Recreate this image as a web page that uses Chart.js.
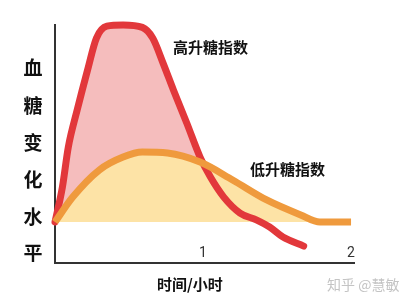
<!DOCTYPE html>
<html><head><meta charset="utf-8">
<script src="https://cdn.jsdelivr.net/npm/chart.js@4"></script>
<style>html,body{margin:0;padding:0;background:#fff;}#wrap{width:407px;height:307px;}</style>
</head><body><div id="wrap"><canvas id="c" width="407" height="307"></canvas></div>
<script>
// Time in hours, blood sugar level (arbitrary units)
const highGiTime  = [0, 0.05, 0.09, 0.15, 0.22, 0.28, 0.35, 0.46, 0.59, 0.66, 0.73, 0.80, 0.89, 0.98, 1.05, 1.14, 1.25, 1.36, 1.45, 1.54, 1.68];
const highGiLevel = [1.72, 3.19, 4.87, 6.43, 8.11, 9.45, 9.95, 10.0, 9.9, 9.45, 8.40, 7.27, 5.88, 4.45, 3.61, 2.77, 2.10, 1.81, 1.51, 1.09, 0.71];
const lowGiTime   = [0, 0.12, 0.30, 0.46, 0.59, 0.76, 0.98, 1.20, 1.43, 1.66, 1.79, 2.0];
const lowGiLevel  = [1.72, 2.77, 3.91, 4.45, 4.66, 4.62, 4.24, 3.49, 2.65, 2.02, 1.72, 1.72];
const baseLevel = 1.72;
const xTickValues = [1, 2];
const xTickLabels = ['1', '2'];
const yTitleChars = ['血', '糖', '变', '化', '水', '平'];
const xTitle = '时间/小时';
const highGiName = '高升糖指数';
const lowGiName = '低升糖指数';
const watermark = '知乎 @慧敏';

const CJK = '"Noto Sans CJK SC", "Noto Sans", sans-serif';

const textPlugin = {
  id: 'texts',
  afterDraw(chart) {
    const ctx = chart.ctx;
    ctx.save();
    ctx.textBaseline = 'middle';
    ctx.fillStyle = '#111';
    ctx.textAlign = 'center';
    ctx.font = 'bold 19px ' + CJK;
    const ys = [68, 106, 143, 180, 217, 253];
    yTitleChars.forEach((ch, i) => ctx.fillText(ch, 33, ys[i]));
    ctx.textAlign = 'left';
    ctx.font = 'bold 15px ' + CJK;
    ctx.fillText(highGiName, 173, 47);
    ctx.fillText(lowGiName, 250, 169);
    ctx.fillText(xTitle, 157, 284);
    ctx.fillStyle = '#c4c4c4';
    ctx.font = '14px ' + CJK;
    ctx.fillText(watermark, 327, 285);
    ctx.restore();
  }
};

new Chart(document.getElementById('c'), {
  type: 'line',
  data: {
    datasets: [
      {
        label: lowGiName,
        data: lowGiTime.map((t, i) => ({x: t, y: lowGiLevel[i]})),
        borderColor: '#ef9a3d',
        borderWidth: 7,
        borderCapStyle: 'butt',
        fill: {target: {value: baseLevel}, above: '#fde3a6', below: 'rgba(0,0,0,0)'},
        pointRadius: 0,
        cubicInterpolationMode: 'monotone',
        clip: false
      },
      {
        label: highGiName,
        data: highGiTime.map((t, i) => ({x: t, y: highGiLevel[i]})),
        borderColor: '#e2383b',
        borderWidth: 7,
        borderCapStyle: 'round',
        fill: {target: {value: baseLevel}, above: '#f5bdbd', below: 'rgba(0,0,0,0)'},
        pointRadius: 0,
        cubicInterpolationMode: 'monotone',
        clip: false
      }
    ]
  },
  options: {
    responsive: false,
    animation: false,
    devicePixelRatio: 1,
    layout: {padding: {left: 55, right: 53, top: 25, bottom: 44}},
    plugins: {
      legend: {display: false},
      tooltip: {enabled: false},
      filler: {drawTime: 'beforeDatasetsDraw'}
    },
    scales: {
      x: {
        type: 'linear', min: 0, max: 2.02,
        grid: {display: false, drawTicks: false},
        border: {display: true, color: '#333', width: 2},
        afterBuildTicks: s => { s.ticks = xTickValues.map(v => ({value: v})); },
        afterFit: s => { s.height = 0; },
        ticks: {
          mirror: true,
          padding: 1,
          color: '#333',
          font: {family: 'Roboto, "Noto Sans", sans-serif', size: 14},
          callback: (v, i) => xTickLabels[i],
          maxRotation: 0, autoSkip: false
        }
      },
      y: {
        type: 'linear', min: 0, max: 10,
        grid: {display: false, drawTicks: false},
        border: {display: true, color: '#333', width: 2},
        ticks: {display: false},
        afterFit: s => { s.width = 0; }
      }
    }
  },
  plugins: [textPlugin]
});
</script></body></html>
